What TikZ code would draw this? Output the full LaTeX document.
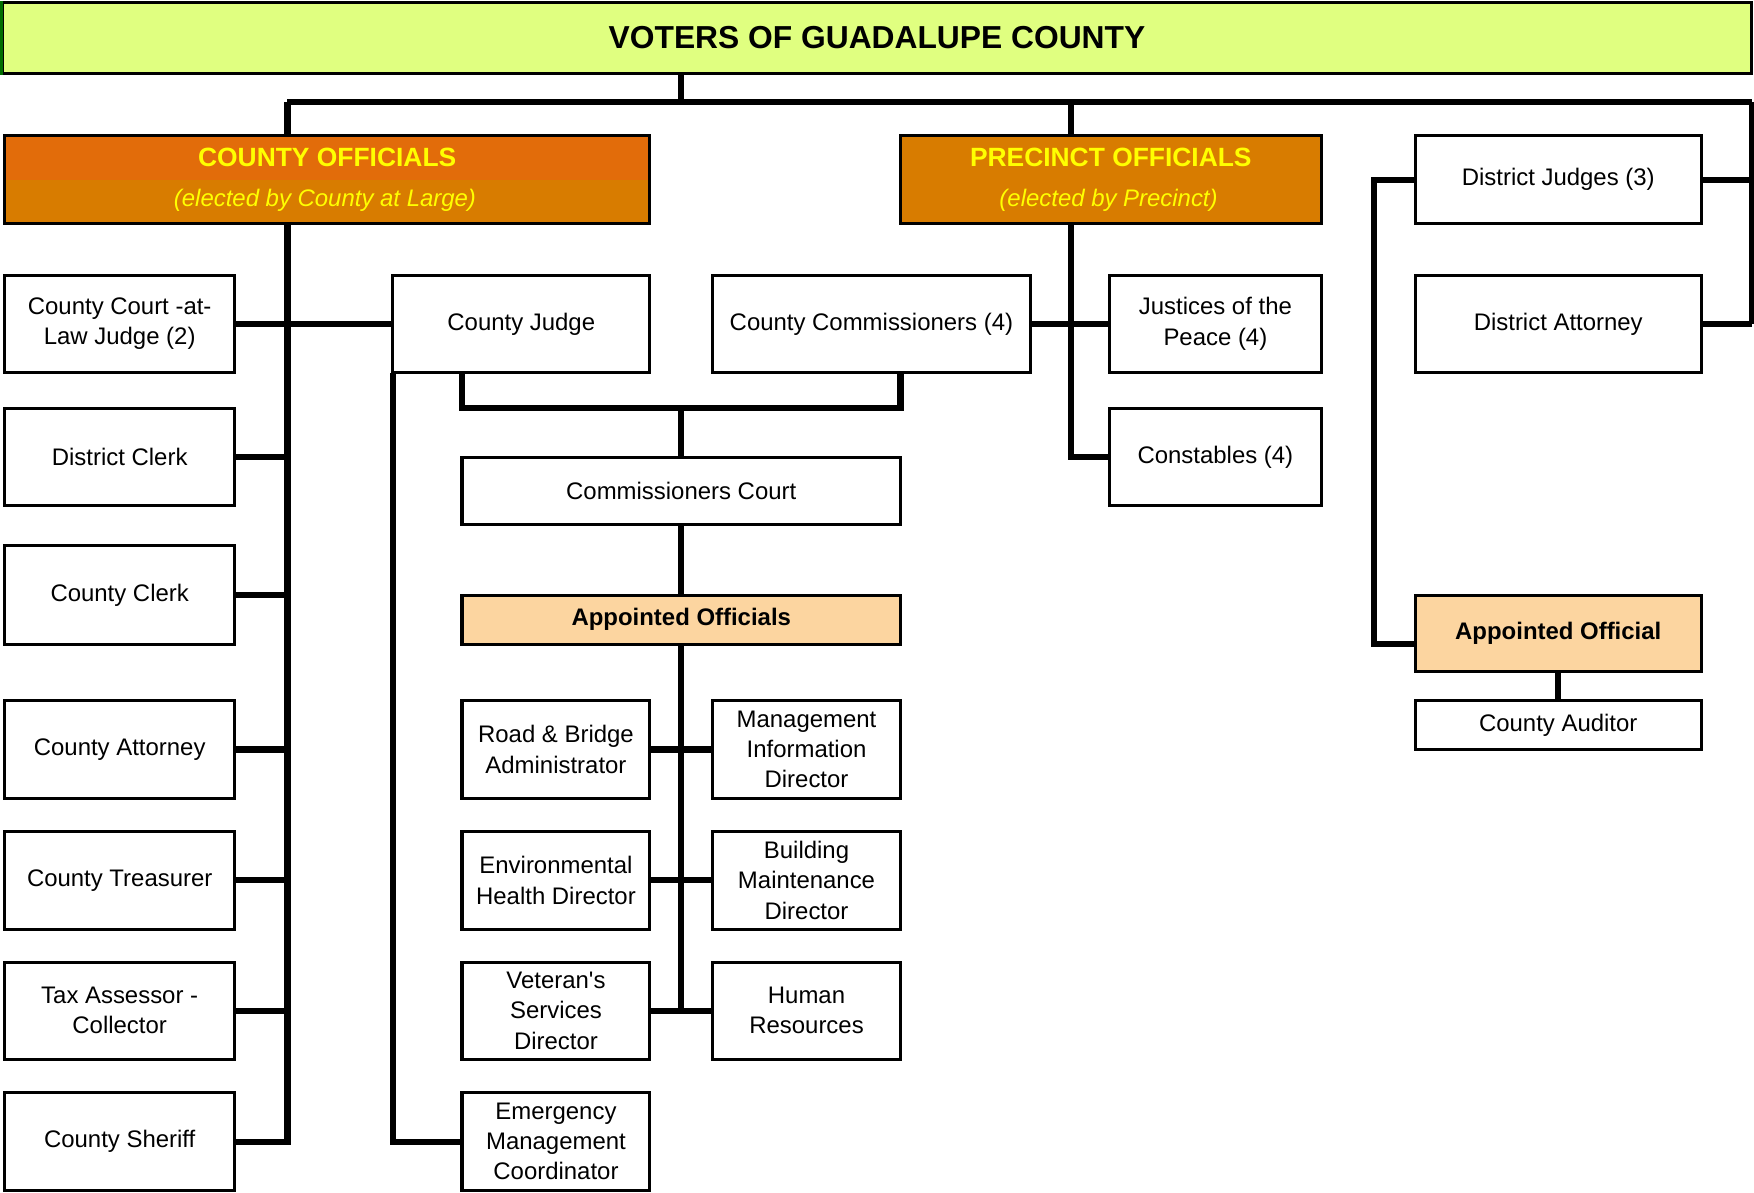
\documentclass[tikz,border=0pt]{standalone}
\usepackage{fontspec}
\setmainfont{Liberation Sans}
\definecolor{votfill}{RGB}{224,255,128}
\definecolor{orA}{RGB}{226,108,10}
\definecolor{orB}{RGB}{216,124,0}
\definecolor{peach}{RGB}{252,213,160}
\definecolor{dgreen}{RGB}{0,110,0}
\definecolor{ylw}{RGB}{255,255,0}
\begin{document}
\begin{tikzpicture}[x=0.5pt,y=-0.5pt,
  box/.style={draw=black, line width=1.35pt, fill=white, inner sep=0pt, outer sep=0pt,
    align=center, font=\fontsize{10.7}{13.5}\selectfont},
  lbox/.style={box, minimum width=103pt, minimum height=43.5pt},
  sbox/.style={box, minimum width=84pt, minimum height=44pt},
  wbox/.style={box, minimum width=128pt},
  hdrtext/.style={text=ylw, inner sep=0pt, font=\fontsize{11.8}{14}\selectfont\bfseries},
  subtext/.style={text=ylw, inner sep=0pt, font=\fontsize{10.7}{13}\selectfont\itshape},
  conn/.style={line width=2.7pt, black}]
\useasboundingbox (0,0) rectangle (1568,1066);

% ---------- nodes ----------
\node[box, fill=votfill, minimum width=782pt, minimum height=32pt,
  font=\fontsize{14.2}{17}\selectfont\bfseries] (top) at (784,34) {VOTERS OF GUADALUPE COUNTY};
\draw[dgreen, line width=1.6pt] (1.2,1) -- (1.2,67);

\node[box, fill=orB, minimum width=288.5pt, minimum height=39.5pt,
  path picture={\fill[orA] (path picture bounding box.north west) rectangle (path picture bounding box.east);}] (co) at (292.5,160.5) {};
\node[hdrtext] (co1) at (292.5,141) {COUNTY OFFICIALS};
\node[subtext] (co2) at (290.5,179) {(elected by County at Large)};

\node[box, fill=orB, minimum width=188pt, minimum height=39.5pt] (po) at (993,160.5) {};
\node[hdrtext] (po1) at (993,141) {PRECINCT OFFICIALS};
\node[subtext] (po2) at (991,179) {(elected by Precinct)};

\node[wbox, minimum height=39.5pt] (dj) at (1393,160.5) {District Judges (3)};
\node[wbox, minimum height=43.5pt] (da) at (1393,289.5) {District Attorney};

\node[lbox] (ccl) at (107,289.5) {County Court -at-\\Law Judge (2)};
\node[lbox] (dcl) at (107,408.5) {District Clerk};
\node[lbox, minimum height=44pt] (cck) at (107,532) {County Clerk};
\node[lbox, minimum height=44pt] (cat) at (107,670) {County Attorney};
\node[lbox, minimum height=44pt] (ctr) at (107,787) {County Treasurer};
\node[lbox] (tax) at (107,903.5) {Tax Assessor -\\Collector};
\node[lbox] (sher) at (107,1020.5) {County Sheriff};

\node[box, minimum width=115pt, minimum height=43.5pt] (cj) at (466,289.5) {County Judge};
\node[box, minimum width=142pt, minimum height=43.5pt] (cm) at (779,289.5) {County Commissioners (4)};
\node[box, minimum width=94.5pt, minimum height=43.5pt] (jp) at (1086.5,289.5) {Justices of the\\Peace (4)};
\node[box, minimum width=94.5pt, minimum height=43.5pt] (con) at (1086.5,408.5) {Constables (4)};

\node[box, minimum width=196pt, minimum height=30pt] (ccourt) at (609,439) {Commissioners Court};
\node[box, fill=peach, minimum width=196pt, minimum height=22pt,
  font=\fontsize{10.7}{13.5}\selectfont\bfseries] (ao) at (609,554) {Appointed Officials};

\node[sbox] (rb) at (497,670) {Road \& Bridge\\Administrator};
\node[sbox] (mi) at (721,670) {Management\\Information\\Director};
\node[sbox] (eh) at (497,787) {Environmental\\Health Director};
\node[sbox] (bm) at (721,787) {Building\\Maintenance\\Director};
\node[sbox, minimum height=43.5pt] (vs) at (497,903.5) {Veteran\textquotesingle s\\Services\\Director};
\node[sbox, minimum height=43.5pt] (hr) at (721,903.5) {Human\\Resources};
\node[sbox, minimum height=43.5pt] (em) at (497,1020.5) {Emergency\\Management\\Coordinator};

\node[wbox, fill=peach, minimum height=34pt,
  font=\fontsize{10.7}{13.5}\selectfont\bfseries] (aof) at (1393,566) {Appointed Official};
\node[wbox, minimum height=22pt] (aud) at (1393,648) {County Auditor};

% ---------- junction coordinates ----------
\coordinate (vt) at (609,91);
\coordinate (lt) at (257,91);
\coordinate (pt) at (957,91);
\coordinate (rt) at (1566,91);
\coordinate (brk) at (609,365);
\coordinate (aoj) at (1228,576);

% ---------- connectors ----------
\draw[conn] (top.south -| vt) -- (vt);
\draw[conn] (lt) -- (rt);
\draw[conn] (lt) -- (co.north -| lt);
\draw[conn] (co.south -| lt) -- (lt |- sher.east) -- (sher.east);
\draw[conn] (ccl.east) -- (cj.west);
\draw[conn] (dcl.east) -- (dcl.east -| lt);
\draw[conn] (cck.east) -- (cck.east -| lt);
\draw[conn] (cat.east) -- (cat.east -| lt);
\draw[conn] (ctr.east) -- (ctr.east -| lt);
\draw[conn] (tax.east) -- (tax.east -| lt);

\draw[conn] (pt) -- (po.north -| pt);
\draw[conn] (po.south -| pt) -- (pt |- con.west) -- (con.west);
\draw[conn] (cm.east) -- (jp.west);

\draw[conn] (ccourt.west |- cj.south) -- (ccourt.west |- brk) -- (ccourt.east |- brk) -- (ccourt.east |- cm.south);
\draw[conn] (brk) -- (ccourt.north);
\draw[conn] (ccourt.south) -- (ao.north);
\draw[conn] (ao.south) -- (ao.south |- hr.west);
\draw[conn] (rb.east) -- (mi.west);
\draw[conn] (eh.east) -- (bm.west);
\draw[conn] (vs.east) -- (hr.west);
\draw[conn] (cj.south west) -- (cj.south west |- em.west) -- (em.west);

\draw[conn] (dj.west) -| (aoj) -- (aoj -| aof.west);
\draw[conn] (dj.east) -- (rt |- dj.east);
\draw[conn] (da.east) -- (rt |- da.east);
\draw[conn] (rt) -- (rt |- da.east);
\draw[conn] (aof.south) -- (aud.north);
\end{tikzpicture}
\end{document}
